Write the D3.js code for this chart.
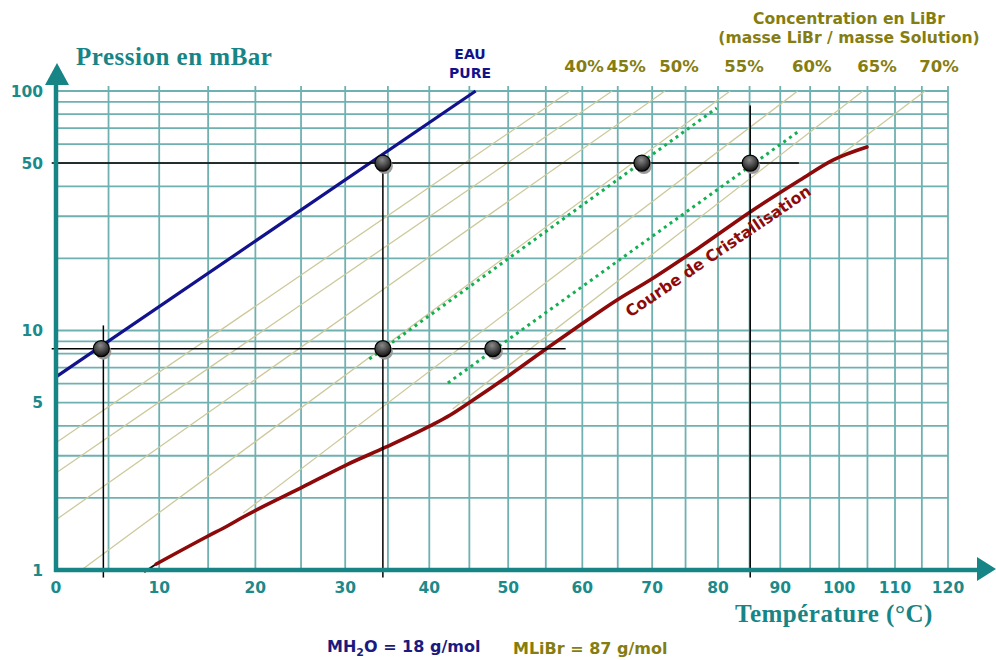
<!DOCTYPE html>
<html>
<head>
<meta charset="utf-8">
<script src="https://cdn.jsdelivr.net/npm/d3@7"></script>
<style>
  body { margin: 0; background: #fff; }
  svg { display: block; }
  .sans { font-family: "DejaVu Sans", Verdana, sans-serif; font-weight: bold; }
  .serif { font-family: "Liberation Serif", "Times New Roman", serif; font-weight: bold; }
</style>
</head>
<body>
<svg id="chart" width="996" height="660"></svg>
<script>
// ---- data (temperature in °C, pressure in mbar) ----
var tempTicks = [0, 10, 20, 30, 40, 50, 60, 70, 80, 90, 100, 110, 120];
var pressTicks = [1, 5, 10, 50, 100];
var gridTemps = [5, 10, 15, 20, 25, 30, 35, 40, 45, 50, 55, 60, 65, 70, 75, 80, 85, 90, 95, 100, 105, 110, 115, 120];
var gridPress = [2, 3, 4, 5, 6, 7, 8, 9, 10, 20, 30, 40, 50, 60, 70, 80, 90, 100];

var waterLine = [[0, 6.4], [45.8, 100]];

var concLabels = ["40%", "45%", "50%", "55%", "60%", "65%", "70%"];
var concStart = [[0, 3.4], [0, 2.54], [0, 1.62], [2.4, 1], [18.7, 1.73], [42.9, 4.7], [99.8, 53]];
var concEnd = [[58.3, 100], [64.2, 100], [71.9, 100], [81.9, 100], [92.9, 100], [104.2, 100], [115.6, 100]];

var crystalCurve = [[9.7, 1.059], [14.8, 1.373], [17.2, 1.541], [18.7, 1.665], [25.2, 2.222], [30.1, 2.744],
  [34.8, 3.263], [40.1, 3.994], [42.6, 4.438], [45.1, 5.028], [50.2, 6.52], [55.2, 8.45], [59.7, 10.54],
  [64.9, 13.41], [69.7, 16.25], [77.2, 22.32], [85.1, 31.25], [93.3, 42.5], [98.9, 51.5], [104.9, 58.4]];
var crystalStub = [[8.5, 0.98], [9.7, 1.059]];

var guideLines = [
  [[-0.4, 50], [93.1, 50]],
  [[-0.4, 8.4], [57.7, 8.4]],
  [[4.5, 10.5], [4.5, 0.93]],
  [[34.4, 50], [34.4, 0.93]],
  [[85.1, 87], [85.1, 0.93]]
];
var dottedLines = [
  [[32.8, 7.6], [79.8, 84.9]],
  [[42.3, 6.04], [92.9, 67.4]]
];
var statePoints = [[4.3, 8.4], [34.4, 50], [34.4, 8.4], [48.0, 8.4], [68.5, 50], [85.1, 50]];
var crystalLabelAt = [66.8, 11.3];

// ---- scales: x is linear in -1/T (Dühring style), y is log ----
var teal = "#178585";
var xInv = d3.scaleLinear().domain([-1 / 273.15, -1 / 393.15]).range([56, 948]);
function xT(t) { return xInv(-1 / (t + 273.15)); }
var y = d3.scaleLog().domain([1, 100]).range([570, 91]);

var svg = d3.select("#chart");
svg.append("rect").attr("width", 996).attr("height", 660).attr("fill", "#fff");

var line = d3.line().x(function(d) { return xT(d[0]); }).y(function(d) { return y(d[1]); });

// grid
svg.append("g").selectAll("line").data(gridPress).enter().append("line")
    .attr("x1", xT(0)).attr("x2", xT(120))
    .attr("y1", function(d) { return y(d); }).attr("y2", function(d) { return y(d); })
    .attr("stroke", "#6fb1b1").attr("stroke-width", 1.8);
svg.append("g").selectAll("line").data(gridTemps).enter().append("line")
    .attr("x1", function(d) { return xT(d); }).attr("x2", function(d) { return xT(d); })
    .attr("y1", y(1)).attr("y2", y(105))
    .attr("stroke", "#6fb1b1").attr("stroke-width", 1.8);

// iso-concentration lines
svg.append("g").selectAll("path").data(concLabels).enter().append("path")
    .attr("d", function(d, i) { return line([concStart[i], concEnd[i]]); })
    .attr("fill", "none").attr("stroke", "#cdc99b").attr("stroke-width", 1.3);

svg.append("g").selectAll("text").data(concLabels).enter().append("text")
    .attr("class", "sans")
    .attr("x", function(d, i) { return xT(concEnd[i][0]) + 14; })
    .attr("y", 72)
    .attr("text-anchor", "middle")
    .attr("font-size", 16.5)
    .attr("fill", "#857d10")
    .text(function(d) { return d; });

// water line
svg.append("path").attr("d", line(waterLine))
    .attr("fill", "none").attr("stroke", "#12128c").attr("stroke-width", 3.2);

// crystallisation curve
svg.append("path").attr("d", line(crystalStub))
    .attr("fill", "none").attr("stroke", "#111").attr("stroke-width", 2);
svg.append("path").attr("d", line.curve(d3.curveMonotoneX)(crystalCurve))
    .attr("fill", "none").attr("stroke", "#8e0a0a").attr("stroke-width", 3.6)
    .attr("stroke-linecap", "round");
line.curve(d3.curveLinear);

// green dotted operating lines
svg.append("g").selectAll("path").data(dottedLines).enter().append("path")
    .attr("d", function(d) { return line(d); })
    .attr("fill", "none").attr("stroke", "#12b050").attr("stroke-width", 3)
    .attr("stroke-dasharray", "3,4");

// black guide lines
svg.append("g").selectAll("path").data(guideLines).enter().append("path")
    .attr("d", function(d) { return line(d); })
    .attr("fill", "none").attr("stroke", "#000").attr("stroke-width", 1.5);

// axes
svg.append("line").attr("x1", 56).attr("x2", 56).attr("y1", y(1) + 2).attr("y2", 82)
    .attr("stroke", teal).attr("stroke-width", 4.5);
svg.append("path").attr("d", "M57,63 L45,85 L69,85 Z").attr("fill", teal);
svg.append("line").attr("x1", 54).attr("x2", 982).attr("y1", y(1)).attr("y2", y(1))
    .attr("stroke", teal).attr("stroke-width", 4.5);
svg.append("path").attr("d", "M996,569 L977,557 L977,581 Z").attr("fill", teal);

svg.append("g").selectAll("text").data(tempTicks).enter().append("text")
    .attr("class", "sans")
    .attr("x", function(d) { return xT(d); })
    .attr("y", 593)
    .attr("text-anchor", "middle")
    .attr("font-size", 15.5)
    .attr("fill", "#1c8a8a")
    .text(function(d) { return d; });

svg.append("g").selectAll("text").data(pressTicks).enter().append("text")
    .attr("class", "sans")
    .attr("x", 43)
    .attr("y", function(d) { return y(d); })
    .attr("dy", "0.36em")
    .attr("text-anchor", "end")
    .attr("font-size", 15.5)
    .attr("fill", "#1c8a8a")
    .text(function(d) { return d; });

// state points
var dots = svg.append("g").selectAll("g").data(statePoints).enter().append("g")
    .attr("transform", function(d) { return "translate(" + xT(d[0]) + "," + y(d[1]) + ")"; });
var grad = svg.append("defs").append("radialGradient").attr("id", "ball")
    .attr("cx", "45%").attr("cy", "30%").attr("r", "70%");
grad.append("stop").attr("offset", "0%").attr("stop-color", "#8a8a8a");
grad.append("stop").attr("offset", "100%").attr("stop-color", "#111");
dots.append("circle").attr("cx", 2).attr("cy", 3).attr("r", 8).attr("fill", "#9a9a9a");
dots.append("circle").attr("r", 8).attr("fill", "url(#ball)").attr("stroke", "#000").attr("stroke-width", 1.2);

// texts
svg.append("text").attr("class", "serif")
    .attr("x", 76).attr("y", 65)
    .attr("font-size", 25).attr("letter-spacing", 0.5)
    .attr("fill", teal).text("Pression en mBar");
svg.append("text").attr("class", "serif")
    .attr("x", 735).attr("y", 622)
    .attr("font-size", 25).attr("letter-spacing", 0.5)
    .attr("fill", teal).text("Température (°C)");

svg.append("text").attr("class", "sans").attr("x", 470).attr("y", 59)
    .attr("text-anchor", "middle").attr("font-size", 14).attr("fill", "#12128c").text("EAU");
svg.append("text").attr("class", "sans").attr("x", 470).attr("y", 78)
    .attr("text-anchor", "middle").attr("font-size", 14).attr("fill", "#12128c").text("PURE");

svg.append("text").attr("class", "sans").attr("x", 849).attr("y", 24)
    .attr("text-anchor", "middle").attr("font-size", 15.6).attr("fill", "#857d10")
    .text("Concentration en LiBr");
svg.append("text").attr("class", "sans").attr("x", 849).attr("y", 43)
    .attr("text-anchor", "middle").attr("font-size", 15.6).attr("fill", "#857d10")
    .text("(masse LiBr / masse Solution)");

var mh2o = svg.append("text").attr("class", "sans").attr("x", 327).attr("y", 652)
    .attr("font-size", 16).attr("fill", "#1a1a80");
mh2o.append("tspan").text("MH");
mh2o.append("tspan").attr("dy", 4).attr("font-size", 11).text("2");
mh2o.append("tspan").attr("dy", -4).text("O = 18 g/mol");

svg.append("text").attr("class", "sans").attr("x", 513).attr("y", 654)
    .attr("font-size", 16).attr("fill", "#857d10").text("MLiBr = 87 g/mol");

svg.append("text").attr("class", "sans")
    .attr("transform", "translate(" + xT(crystalLabelAt[0]) + "," + y(crystalLabelAt[1]) + ") rotate(-34.3)")
    .attr("font-size", 15.8).attr("fill", "#8e0a0a")
    .text("Courbe de Cristallisation");
</script>
</body>
</html>
